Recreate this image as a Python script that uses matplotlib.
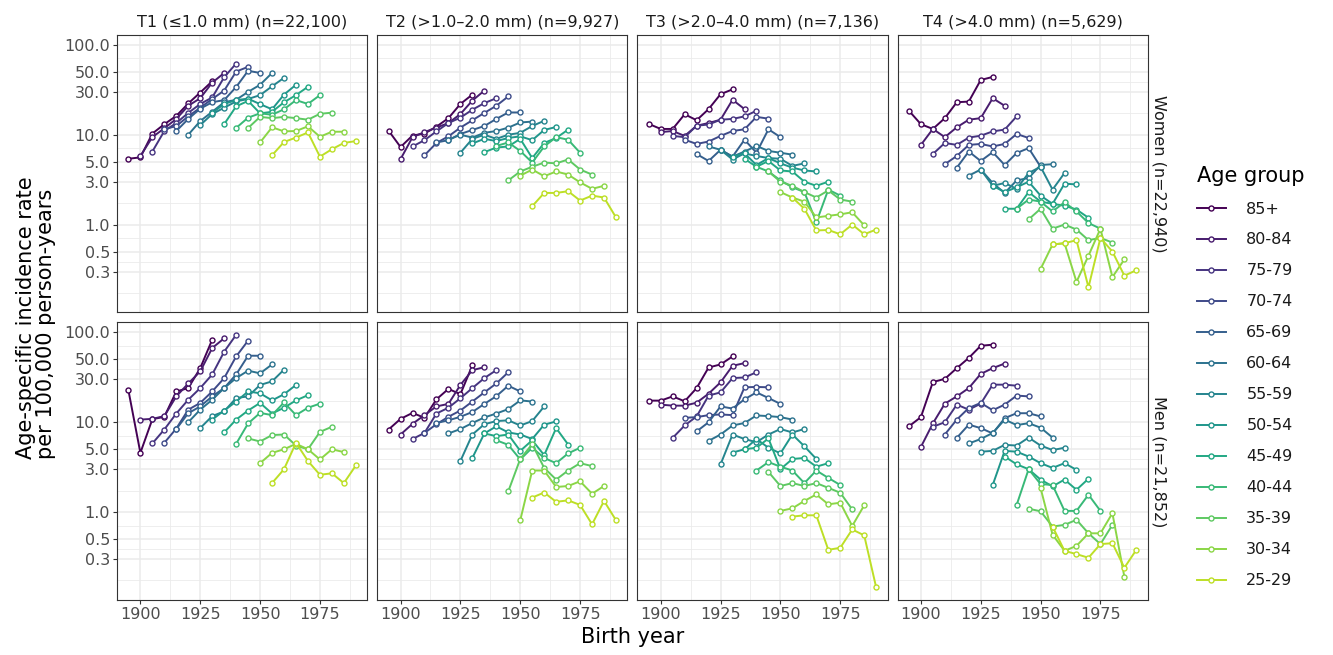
import numpy as np
import matplotlib.pyplot as plt
from matplotlib.lines import Line2D

# age groups, oldest first, and the first birth cohort of each
age_groups = ['85+', '80-84', '75-79', '70-74', '65-69', '60-64', '55-59',
              '50-54', '45-49', '40-44', '35-39', '30-34', '25-29']
first_cohort = [1895, 1900, 1905, 1910, 1915, 1920, 1925,
                1930, 1935, 1940, 1945, 1950, 1955]

col_titles = ['T1 (≤1.0 mm) (n=22,100)', 'T2 (>1.0–2.0 mm) (n=9,927)',
              'T3 (>2.0–4.0 mm) (n=7,136)', 'T4 (>4.0 mm) (n=5,629)']
row_titles = ['Women (n=22,940)', 'Men (n=21,852)']

y_breaks = [0.3, 0.5, 1, 3, 5, 10, 30, 50, 100]
y_labels = ['0.3', '0.5', '1.0', '3.0', '5.0', '10.0', '30.0', '50.0', '100.0']
x_breaks = [1900, 1925, 1950, 1975]

# rates per 100,000 person-years, one row per age group (8 cohorts each)
t1_women = [
    [5.4, 5.6, 10.3, 13.1, 16.2, 22.3, 29.5, 39.4],
    [5.8, 9.4, 11.8, 15.0, 21.0, 25.5, 38.0, 48.7],
    [6.5, 11.0, 13.5, 17.5, 22.0, 26.0, 43.7, 62.0],
    [11.5, 12.5, 16.0, 20.0, 25.0, 31.0, 50.5, 57.0],
    [11.0, 15.0, 19.5, 23.0, 24.3, 34.0, 51.5, 48.7],
    [10.0, 14.2, 18.0, 23.0, 24.5, 30.0, 36.0, 48.7],
    [12.8, 17.0, 20.0, 23.5, 25.0, 27.6, 34.6, 43.0],
    [17.5, 22.0, 24.3, 25.2, 21.9, 19.2, 28.0, 36.0],
    [13.1, 20.7, 23.8, 17.3, 18.0, 23.0, 27.6, 34.2],
    [11.9, 15.5, 17.3, 16.7, 19.2, 24.3, 22.0, 27.6],
    [11.9, 15.8, 15.3, 15.8, 15.3, 14.7, 17.1, 17.6],
    [8.2, 12.1, 10.9, 11.0, 12.4, 9.5, 10.8, 10.8],
    [5.9, 8.3, 9.3, 10.6, 5.7, 6.9, 8.1, 8.5],
]
t2_women = [
    [11.1, 7.3, 9.8, 10.3, 12.3, 15.3, 22.0, 28.0],
    [5.35, 9.4, 10.7, 12.0, 13.5, 17.0, 24.0, 31.0],
    [7.4, 8.7, 10.9, 13.5, 15.5, 19.0, 22.5, 25.5],
    [5.9, 8.1, 9.6, 12.0, 14.5, 17.5, 21.0, 26.7],
    [8.2, 8.7, 10.2, 11.3, 12.5, 15.0, 17.7, 17.7],
    [8.8, 10.0, 9.3, 10.5, 11.0, 12.0, 13.7, 14.0],
    [6.3, 9.0, 10.0, 9.0, 10.0, 10.5, 12.5, 14.3],
    [8.0, 9.0, 8.5, 9.2, 9.6, 8.7, 11.3, 12.2],
    [6.4, 7.2, 7.4, 9.0, 5.5, 8.1, 9.2, 11.4],
    [7.5, 8.2, 6.6, 4.9, 7.4, 9.4, 8.8, 6.3],
    [3.1, 3.9, 4.4, 4.9, 4.8, 5.3, 4.1, 3.6],
    [3.5, 4.1, 3.45, 3.9, 3.6, 2.95, 2.5, 2.7],
    [1.6, 2.25, 2.25, 2.35, 1.85, 2.1, 2.0, 1.2],
]
t3_women = [
    [13.2, 11.6, 11.6, 16.9, 14.5, 19.3, 28.3, 32.0],
    [10.7, 11.0, 9.7, 12.6, 13.5, 14.7, 24.5, 19.3],
    [9.7, 9.4, 12.6, 13.0, 14.7, 15.0, 16.0, 18.5],
    [8.8, 7.9, 8.4, 9.7, 11.0, 11.5, 15.8, 15.1],
    [6.1, 5.1, 6.8, 5.7, 8.8, 6.3, 11.5, 9.4],
    [7.4, 6.8, 5.7, 6.5, 7.5, 6.6, 6.3, 6.0],
    [6.8, 5.3, 6.2, 5.8, 5.5, 5.4, 4.5, 4.8],
    [5.7, 6.2, 4.6, 5.5, 4.8, 4.3, 4.0, 3.9],
    [5.4, 4.4, 5.1, 4.0, 3.9, 3.0, 2.7, 3.0],
    [4.4, 3.9, 3.1, 2.6, 2.3, 1.06, 2.45, 2.1],
    [3.9, 3.0, 2.7, 2.3, 2.0, 2.4, 1.9, 1.8],
    [2.3, 2.0, 1.8, 1.2, 1.25, 1.3, 1.37, 0.98],
    [2.0, 1.5, 0.86, 0.87, 0.78, 1.0, 0.78, 0.88],
]
t4_women = [
    [18.5, 13.1, 11.6, 15.3, 23.0, 23.4, 40.7, 44.0],
    [7.7, 11.6, 9.4, 12.1, 14.7, 15.3, 25.5, 21.0],
    [6.1, 8.1, 7.7, 9.3, 9.75, 10.9, 11.4, 16.0],
    [4.7, 5.8, 7.7, 7.9, 7.4, 7.9, 10.2, 9.2],
    [4.3, 6.5, 5.1, 6.4, 4.6, 6.25, 7.1, 4.4],
    [3.5, 4.1, 2.9, 2.25, 3.1, 3.3, 4.6, 4.7],
    [4.1, 2.7, 2.9, 2.5, 3.75, 4.4, 2.45, 3.75],
    [2.7, 2.3, 2.6, 3.0, 2.1, 1.7, 2.85, 2.8],
    [1.5, 1.5, 2.3, 1.8, 1.7, 1.62, 1.47, 1.19],
    [1.5, 1.9, 1.8, 1.4, 1.77, 1.4, 1.04, 0.9],
    [1.14, 1.5, 0.9, 1.0, 0.88, 0.67, 0.71, 0.63],
    [0.32, 0.6, 0.62, 0.23, 0.45, 0.9, 0.26, 0.41],
    [0.6, 0.62, 0.67, 0.2, 0.71, 0.5, 0.27, 0.31],
]
t1_men = [
    [22.7, 4.56, 10.8, 11.5, 22.0, 24.0, 40.0, 83.0],
    [10.7, 10.9, 11.7, 19.4, 27.0, 36.8, 67.0, 86.0],
    [5.8, 8.3, 12.5, 17.8, 24.0, 34.0, 61.0, 94.0],
    [5.9, 8.5, 13.8, 16.4, 22.0, 31.0, 54.0, 81.0],
    [8.4, 12.6, 15.0, 19.4, 24.0, 34.0, 55.0, 55.0],
    [10.0, 13.8, 17.8, 24.0, 31.0, 37.5, 35.0, 44.0],
    [8.6, 11.7, 13.2, 18.6, 19.4, 26.0, 28.5, 38.5],
    [10.7, 13.5, 17.0, 22.0, 21.0, 17.5, 20.5, 26.0],
    [7.7, 10.7, 13.5, 16.4, 12.5, 14.5, 17.5, 20.0],
    [5.75, 9.7, 12.7, 12.0, 16.6, 12.0, 14.5, 16.1],
    [6.6, 6.1, 7.2, 7.3, 5.5, 5.0, 7.8, 8.9],
    [3.5, 4.56, 5.0, 5.75, 5.0, 3.85, 5.0, 4.65],
    [2.1, 3.0, 5.9, 3.7, 2.6, 2.7, 2.1, 3.3],
]
t2_men = [
    [8.3, 10.9, 12.7, 11.2, 18.0, 23.5, 20.5, 43.0],
    [7.3, 9.6, 12.0, 15.0, 16.0, 26.0, 38.0, 41.0],
    [6.5, 7.6, 12.5, 14.5, 18.5, 24.0, 31.0, 38.0],
    [7.6, 9.5, 11.5, 13.5, 17.0, 21.5, 27.0, 36.0],
    [9.8, 10.5, 11.5, 13.0, 16.0, 19.5, 25.5, 22.0],
    [7.5, 8.4, 9.8, 11.3, 12.5, 14.0, 17.5, 17.0],
    [3.7, 7.3, 9.5, 10.3, 10.5, 9.2, 10.3, 15.0],
    [4.0, 7.5, 9.0, 7.7, 7.3, 6.5, 9.4, 10.2],
    [7.5, 7.0, 7.3, 4.8, 6.3, 4.3, 8.6, 5.65],
    [6.3, 5.6, 3.85, 5.2, 4.0, 3.5, 4.5, 5.2],
    [1.7, 3.9, 5.7, 3.1, 2.3, 2.9, 3.5, 3.25],
    [0.81, 2.9, 2.9, 1.9, 1.95, 2.2, 1.6, 1.95],
    [1.45, 1.65, 1.3, 1.35, 1.2, 0.73, 1.33, 0.81],
]
t3_men = [
    [17.4, 17.4, 19.4, 17.1, 24.0, 40.7, 44.0, 54.0],
    [15.7, 15.3, 15.3, 16.5, 20.8, 27.8, 42.5, 45.5],
    [6.7, 9.2, 11.6, 19.8, 21.5, 31.0, 31.5, 36.0],
    [11.2, 11.4, 12.0, 12.2, 12.0, 24.5, 24.7, 24.5],
    [7.9, 10.0, 15.0, 14.2, 18.0, 21.5, 18.6, 16.0],
    [6.2, 7.3, 9.2, 9.8, 11.9, 11.7, 11.4, 10.7],
    [3.4, 7.3, 6.5, 6.0, 7.3, 8.4, 7.7, 8.4],
    [4.6, 5.0, 6.5, 5.2, 4.5, 7.3, 5.4, 3.9],
    [5.0, 5.2, 6.6, 3.0, 3.9, 4.0, 3.2, 3.5],
    [2.9, 3.6, 3.2, 2.9, 2.1, 2.9, 2.4, 2.0],
    [2.8, 1.95, 2.1, 1.95, 2.1, 1.86, 1.64, 1.07],
    [1.03, 1.1, 1.33, 1.57, 1.22, 1.27, 0.7, 1.19],
    [0.89, 0.92, 0.92, 0.38, 0.4, 0.64, 0.55, 0.145],
]
t4_men = [
    [9.0, 11.4, 28.0, 30.4, 40.0, 52.0, 71.0, 73.0],
    [5.3, 9.7, 16.1, 19.4, 24.0, 34.5, 40.0, 45.0],
    [8.9, 10.0, 15.7, 13.8, 16.1, 26.2, 26.2, 25.5],
    [7.3, 10.7, 14.4, 16.4, 13.6, 15.7, 19.8, 19.4],
    [6.7, 9.4, 8.6, 7.5, 11.1, 12.6, 12.6, 11.6],
    [5.8, 6.5, 7.6, 10.7, 9.3, 9.75, 8.7, 6.75],
    [4.7, 4.8, 5.6, 5.5, 6.75, 5.5, 4.9, 5.2],
    [2.0, 4.8, 4.7, 4.15, 3.5, 3.1, 3.5, 2.95],
    [4.15, 3.4, 3.0, 2.3, 1.93, 2.3, 1.77, 2.35],
    [1.2, 3.0, 2.05, 2.0, 1.03, 1.03, 1.56, 1.03],
    [1.09, 1.02, 0.69, 0.72, 0.82, 0.58, 0.44, 0.72],
    [1.85, 0.56, 0.37, 0.42, 0.58, 0.58, 0.97, 0.19],
    [0.69, 0.37, 0.34, 0.31, 0.44, 0.45, 0.24, 0.38],
]

panels = [[t1_women, t2_women, t3_women, t4_women],
          [t1_men, t2_men, t3_men, t4_men]]

colors = plt.cm.viridis(np.linspace(0, 0.9, len(age_groups)))
grid_col = '#EBEBEB'
text_col = '#4D4D4D'

fig, axes = plt.subplots(2, 4, figsize=(13.33, 6.55), dpi=100, sharex=True, sharey=True)
fig.subplots_adjust(left=0.0878, right=0.861, top=0.9466, bottom=0.084,
                    wspace=0.04, hspace=0.036)

y_minor = [0.1732, 0.3873, 0.7071, 1.732, 3.873, 7.071, 17.32, 38.73, 70.71]
x_minor = [1912.5, 1937.5, 1962.5, 1987.5]

for r in range(2):
    for c in range(4):
        ax = axes[r, c]
        data = panels[r][c]
        for k, vals in enumerate(data):
            yrs = np.arange(first_cohort[k], first_cohort[k] + 5 * len(vals), 5)
            ax.plot(yrs, vals, color=colors[k], lw=1.4, marker='o', ms=3.6,
                    mfc='white', mec=colors[k], mew=1.0, zorder=3)
        ax.set_yscale('log')
        ax.set_xlim(1890.25, 1994.75)
        ax.set_ylim(0.105, 129)
        ax.set_yticks(y_breaks)
        ax.set_yticklabels(y_labels)
        ax.set_yticks(y_minor, minor=True)
        ax.set_xticks(x_breaks)
        ax.set_xticks(x_minor, minor=True)
        ax.yaxis.set_minor_formatter(plt.NullFormatter())
        ax.grid(True, which='major', color=grid_col, lw=1.1, zorder=0)
        ax.grid(True, which='minor', color=grid_col, lw=0.6, zorder=0)
        ax.set_axisbelow(True)
        ax.tick_params(which='minor', length=0)
        ax.tick_params(which='major', length=3, width=0.8, color='#333333',
                       labelsize=11.5, labelcolor=text_col, pad=2)
        for sp in ax.spines.values():
            sp.set_color('#333333')
            sp.set_linewidth(0.8)
        if r == 0:
            ax.set_title(col_titles[c], fontsize=11.5, color='#1A1A1A', pad=6)
            ax.tick_params(axis='x', length=0)
        if c > 0:
            ax.tick_params(axis='y', length=0)
        if c == 3:
            ax.text(1.045, 0.5, row_titles[r], transform=ax.transAxes, rotation=270,
                    ha='center', va='center', fontsize=11.5, color='#1A1A1A')

fig.text(0.4745, 0.012, 'Birth year', ha='center', va='bottom', fontsize=15)
fig.text(0.012, 0.515, 'Age-specific incidence rate\nper 100,000 person-years',
         ha='left', va='center', rotation=90, fontsize=15, linespacing=1.0)

handles = [Line2D([0], [0], color=colors[k], lw=1.4, marker='o', ms=3.6,
                  mfc='white', mec=colors[k], mew=1.0) for k in range(len(age_groups))]
leg = fig.legend(handles, age_groups, title='Age group', loc='upper left',
                 bbox_to_anchor=(0.893, 0.757), frameon=False, fontsize=11.5,
                 title_fontsize=15, labelspacing=1.0, handlelength=1.8,
                 handletextpad=1.3, borderaxespad=0)
leg._legend_box.align = 'left'
for t in leg.get_texts():
    t.set_color('#1A1A1A')

fig.savefig('out.png', dpi=100)
